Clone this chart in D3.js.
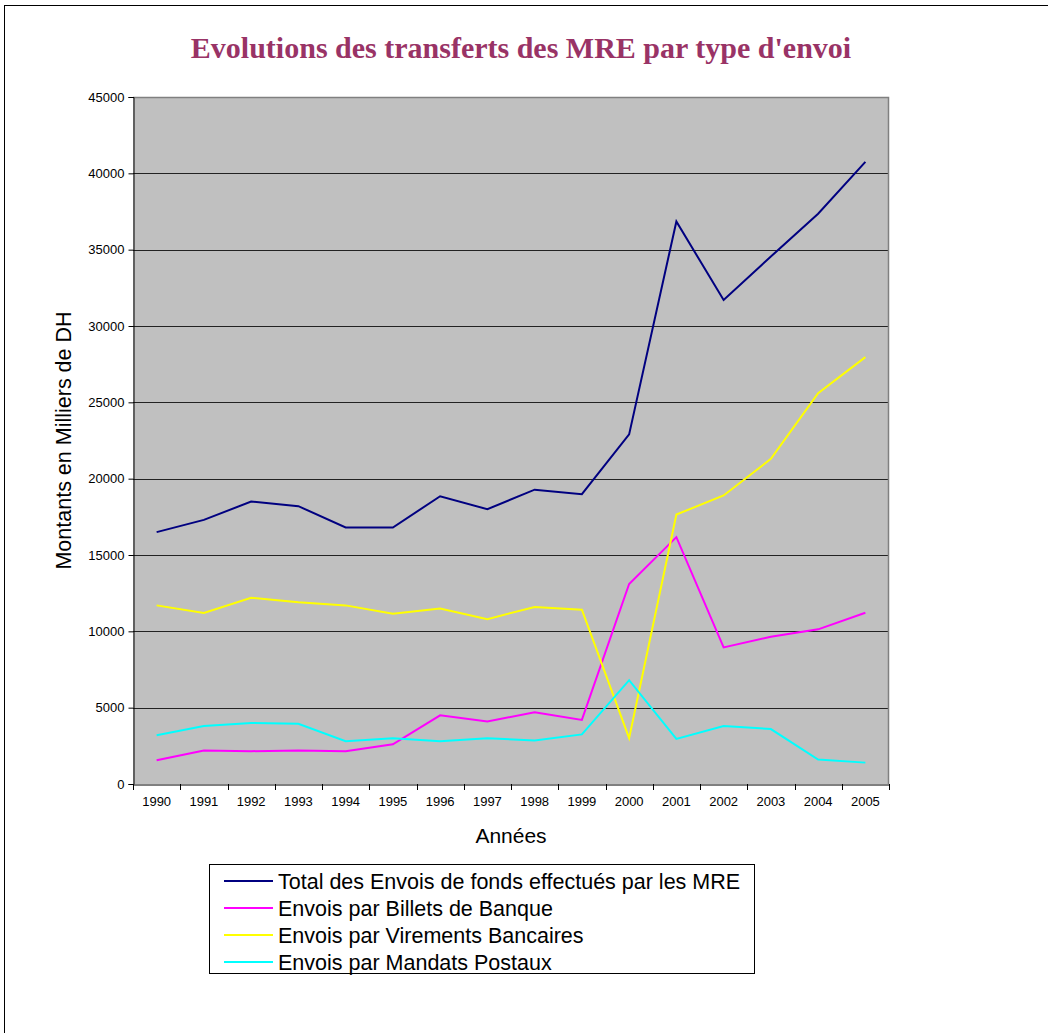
<!DOCTYPE html>
<html>
<head>
<meta charset="utf-8">
<script src="https://cdn.jsdelivr.net/npm/d3@7"></script>
<style>
  body { margin: 0; background: #fff; }
  svg { display: block; }
</style>
</head>
<body>
<div id="chart"></div>
<script>
// Data
const years = ["1990","1991","1992","1993","1994","1995","1996","1997","1998","1999","2000","2001","2002","2003","2004","2005"];
const total    = [16500,17300,18500,18200,16800,16800,18850,18000,19280,18980,22900,36850,31700,34550,37350,40750];
const billets  = [1550,2200,2150,2200,2150,2600,4500,4100,4700,4200,13100,16170,8950,9650,10130,11220];
const virements= [11700,11200,12200,11900,11700,11150,11500,10800,11600,11420,3000,17650,18900,21300,25600,27960];
const mandats  = [3200,3800,4000,3950,2800,3000,2800,3000,2850,3250,6800,2950,3800,3600,1600,1400];
const yTicks = [0,5000,10000,15000,20000,25000,30000,35000,40000,45000];

const seriesNames = [
  "Total des Envois de fonds effectués par les MRE",
  "Envois par Billets de Banque",
  "Envois par Virements Bancaires",
  "Envois par Mandats Postaux"
];
const seriesColors = ["#000080", "#ff00ff", "#ffff00", "#00ffff"];
const seriesValues = [total, billets, virements, mandats];

const W = 1048, H = 1033;
const plot = { left: 133, right: 889, top: 97, bottom: 784 };

const svg = d3.select("#chart").append("svg")
  .attr("width", W)
  .attr("height", H);

// outer chart frame (right/bottom run off the page)
svg.append("rect")
  .attr("x", 4.5).attr("y", 5.5)
  .attr("width", W + 20).attr("height", H + 20)
  .attr("fill", "none").attr("stroke", "#000").attr("stroke-width", 1);

// title
svg.append("text")
  .attr("x", 521).attr("y", 58)
  .attr("text-anchor", "middle")
  .style("font-family", "'Liberation Serif', 'Times New Roman', serif")
  .style("font-weight", "bold")
  .style("font-size", "30px")
  .style("fill", "#993366")
  .text("Evolutions des transferts des MRE par type d'envoi");

const x = d3.scaleBand().domain(years).range([plot.left, plot.right]);
const y = d3.scaleLinear().domain([0, 45000]).range([plot.bottom, plot.top]);

// plot background
svg.append("rect")
  .attr("x", plot.left).attr("y", plot.top)
  .attr("width", plot.right - plot.left).attr("height", plot.bottom - plot.top)
  .attr("fill", "#c0c0c0");

// gridlines
svg.append("g")
  .selectAll("line")
  .data(yTicks.filter(d => d > 0 && d < 45000))
  .join("line")
  .attr("x1", plot.left).attr("x2", plot.right)
  .attr("y1", d => Math.round(y(d)) + 0.5).attr("y2", d => Math.round(y(d)) + 0.5)
  .attr("stroke", "#222").attr("stroke-width", 1);

// plot border (grey top / right)
svg.append("path")
  .attr("d", `M${plot.left},${plot.top + 0.5}H${plot.right - 0.5}V${plot.bottom}`)
  .attr("fill", "none").attr("stroke", "#808080").attr("stroke-width", 1.5);

// Y axis
const yAxis = svg.append("g")
  .attr("transform", `translate(${plot.left + 0.5},0)`)
  .call(d3.axisLeft(y).tickValues(yTicks).tickSize(5).tickPadding(4).tickFormat(d3.format("d")));
yAxis.select(".domain").attr("stroke", "#000");
yAxis.selectAll("text")
  .style("font-family", "'Liberation Sans', Arial, sans-serif")
  .style("font-size", "13px")
  .style("fill", "#000");

// X axis, ticks at category boundaries
const xAxis = svg.append("g")
  .attr("transform", `translate(0,${plot.bottom + 0.5})`)
  .call(d3.axisBottom(x).tickSize(0).tickPadding(12).tickSizeOuter(0));
xAxis.select(".domain").attr("stroke", "#000");
xAxis.selectAll("text")
  .style("font-family", "'Liberation Sans', Arial, sans-serif")
  .style("font-size", "13px")
  .style("fill", "#000");
svg.append("g")
  .selectAll("line")
  .data(years.concat(["end"]))
  .join("line")
  .attr("x1", (d, i) => Math.round(plot.left + i * x.bandwidth()) + 0.5)
  .attr("x2", (d, i) => Math.round(plot.left + i * x.bandwidth()) + 0.5)
  .attr("y1", plot.bottom)
  .attr("y2", plot.bottom + 6)
  .attr("stroke", "#000");

// axis titles
svg.append("text")
  .attr("x", (plot.left + plot.right) / 2).attr("y", 843)
  .attr("text-anchor", "middle")
  .style("font-family", "'Liberation Sans', Arial, sans-serif")
  .style("font-size", "21px")
  .text("Années");

svg.append("text")
  .attr("transform", `translate(71,${(plot.top + plot.bottom) / 2}) rotate(-90)`)
  .attr("text-anchor", "middle")
  .style("font-family", "'Liberation Sans', Arial, sans-serif")
  .style("font-size", "21.5px")
  .text("Montants en Milliers de DH");

// lines
const line = d3.line()
  .x((d, i) => x(years[i]) + x.bandwidth() / 2)
  .y(d => y(d));

svg.append("g")
  .selectAll("path")
  .data(seriesValues)
  .join("path")
  .attr("d", d => line(d))
  .attr("fill", "none")
  .attr("stroke", (d, i) => seriesColors[i])
  .attr("stroke-width", 2)
  .attr("stroke-linejoin", "miter");

// legend
const legend = svg.append("g");
legend.append("rect")
  .attr("x", 209.5).attr("y", 864.5)
  .attr("width", 545).attr("height", 109)
  .attr("fill", "#fff").attr("stroke", "#000").attr("stroke-width", 1);

const items = legend.selectAll("g.item")
  .data(seriesNames)
  .join("g")
  .attr("class", "item")
  .attr("transform", (d, i) => `translate(0,${881 + i * 27})`);

items.append("line")
  .attr("x1", 224).attr("x2", 273)
  .attr("y1", 0).attr("y2", 0)
  .attr("stroke", (d, i) => seriesColors[i])
  .attr("stroke-width", 2);

items.append("text")
  .attr("x", 278).attr("y", 7.5)
  .style("font-family", "'Liberation Sans', Arial, sans-serif")
  .style("font-size", "21.5px")
  .text(d => d);
</script>
</body>
</html>
